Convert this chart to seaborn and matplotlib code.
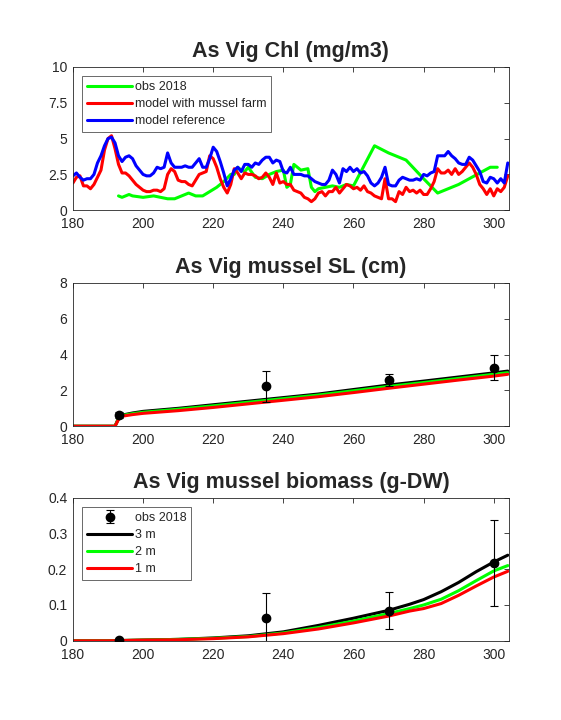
import numpy as np
import pandas as pd
import matplotlib
matplotlib.use('Agg')
import matplotlib.pyplot as plt
import seaborn as sns

# ---- Chl data (mg/m3) ----
chl_days = list(range(180, 305))
chl_reference = [2.4, 2.6, 2.3, 2.1, 2.2, 2.2, 2.5, 3.3, 3.8, 4.5,
                 5.0, 5.1, 4.7, 3.8, 3.4, 3.7, 3.8, 3.6, 3.1, 2.8,
                 2.5, 2.4, 2.4, 2.6, 3.0, 2.9, 3.0, 4.0, 3.3, 3.0,
                 3.0, 3.0, 3.1, 3.0, 3.0, 3.3, 3.6, 3.0, 3.0, 3.6,
                 4.4, 4.1, 3.4, 2.6, 1.7, 2.2, 2.8, 3.0, 2.7, 3.2,
                 3.2, 3.0, 3.3, 3.2, 3.5, 3.7, 3.7, 3.3, 3.5, 3.4,
                 2.7, 2.6, 3.0, 2.5, 2.5, 2.5, 2.4, 2.4, 2.2, 2.0,
                 1.9, 1.8, 1.8, 2.1, 2.8, 2.5, 1.9, 2.9, 2.7, 3.0,
                 2.7, 2.9, 2.6, 2.7, 2.4, 1.9, 1.7, 1.9, 2.3, 3.0,
                 1.8, 1.7, 1.7, 2.1, 2.3, 2.2, 2.1, 2.1, 2.2, 2.1,
                 2.5, 2.4, 2.6, 2.7, 3.8, 3.8, 3.8, 4.1, 3.8, 3.6,
                 3.3, 3.2, 3.2, 3.7, 3.5, 3.1, 2.7, 2.0, 1.9, 2.3,
                 2.2, 1.9, 2.2, 1.9, 3.3]
chl_farm = [1.9, 2.3, 2.4, 1.7, 1.7, 1.5, 1.8, 2.3, 2.8, 4.2,
            5.0, 5.2, 4.3, 3.2, 2.6, 2.6, 2.4, 2.1, 1.8, 1.6,
            1.4, 1.3, 1.3, 1.4, 1.4, 1.3, 1.5, 2.5, 2.9, 2.7,
            2.1, 2.0, 2.0, 1.8, 1.7, 2.1, 2.5, 2.6, 2.7, 3.8,
            3.6, 3.0, 2.2, 1.6, 1.2, 1.8, 2.9, 2.6, 2.2, 2.6,
            2.5, 2.5, 2.4, 2.2, 2.3, 2.6, 2.3, 1.8, 2.6, 1.9,
            2.0, 1.8, 1.8, 1.4, 1.3, 1.2, 0.9, 0.8, 0.6, 0.8,
            1.2, 1.3, 1.0, 1.3, 1.3, 1.6, 1.2, 1.5, 1.8, 1.7,
            1.5, 1.6, 1.4, 1.7, 1.3, 1.2, 1.0, 0.9, 0.8, 2.2,
            0.8, 0.8, 0.6, 1.3, 1.1, 1.6, 1.3, 1.4, 1.2, 1.4,
            1.1, 1.1, 1.5, 2.0, 2.9, 2.6, 2.6, 2.8, 2.5, 2.9,
            2.5, 2.7, 3.0, 3.3, 3.0, 2.5, 1.8, 1.5, 1.1, 1.5,
            1.0, 1.5, 1.3, 1.6, 2.4]
obs_chl_days = [193, 194, 196, 197, 200, 203, 205, 207, 209, 211, 213, 215, 217, 219,
                221, 223, 225, 226, 227, 228, 229, 230, 232, 234, 236, 238, 240, 241,
                242, 243, 245, 247, 248, 249, 250, 252, 254, 256, 258, 260, 266, 270,
                275, 280, 284, 290, 296, 299, 301]
obs_chl = [1.0, 0.9, 1.1, 1.0, 0.9, 1.0, 0.9, 0.8, 0.8, 1.0, 1.2, 1.0, 1.0, 1.3,
           1.6, 2.0, 2.5, 2.5, 3.0, 2.8, 2.7, 3.0, 2.3, 2.2, 2.5, 2.7, 2.8, 1.6,
           1.8, 3.2, 2.8, 2.9, 1.6, 1.3, 1.5, 1.6, 1.7, 1.6, 1.8, 1.7, 4.5, 4.0,
           3.5, 2.2, 1.2, 1.8, 2.6, 3.0, 3.0]

# ---- mussel shell length (cm) ----
sl_days = [180, 192, 193, 194, 197, 200, 210, 220, 230, 240, 250, 260, 270, 280, 290, 300, 304]
sl_3m = [0, 0, 0.45, 0.62, 0.74, 0.83, 1.0, 1.2, 1.4, 1.6, 1.8, 2.05, 2.3, 2.52, 2.75, 2.98, 3.08]
sl_2m = [0, 0, 0.42, 0.6, 0.7, 0.78, 0.95, 1.14, 1.34, 1.54, 1.74, 1.98, 2.22, 2.44, 2.67, 2.9, 2.99]
sl_1m = [0, 0, 0.38, 0.56, 0.65, 0.72, 0.87, 1.05, 1.25, 1.45, 1.65, 1.88, 2.12, 2.35, 2.58, 2.8, 2.9]
obs_sl_days = [193, 235, 270, 300]
obs_sl = [0.62, 2.22, 2.59, 3.26]
obs_sl_err = [0.15, 0.85, 0.33, 0.69]

# ---- mussel biomass (g-DW) ----
bm_days = [180, 190, 200, 210, 220, 230, 240, 250, 260, 270, 276, 280, 285, 290, 295, 300, 304]
bm_3m = [0, 0, 0.002, 0.004, 0.008, 0.014, 0.025, 0.043, 0.063, 0.085, 0.102, 0.115, 0.137, 0.163, 0.193, 0.22, 0.239]
bm_2m = [0, 0, 0.002, 0.004, 0.007, 0.012, 0.022, 0.037, 0.055, 0.076, 0.09, 0.1, 0.116, 0.14, 0.168, 0.195, 0.21]
bm_1m = [0, 0, 0.002, 0.003, 0.006, 0.011, 0.02, 0.033, 0.05, 0.069, 0.083, 0.09, 0.104, 0.127, 0.153, 0.178, 0.194]
obs_bm_days = [193, 235, 270, 300]
obs_bm = [0.001, 0.064, 0.084, 0.217]
obs_bm_err = [0.002, 0.07, 0.052, 0.119]

sns.set_theme(style='white')
plt.rcParams['font.family'] = ['Liberation Sans', 'DejaVu Sans']
plt.rcParams['xtick.direction'] = 'in'
plt.rcParams['ytick.direction'] = 'in'

GREEN = '#00ff00'
RED = '#ff0000'
BLUE = '#0000ff'
LW = 2.2
AXC = '#262626'
TICKFS = 10
LEGFS = 9
TITLEFS = 15.5

fig = plt.figure(figsize=(5.61, 7.2), dpi=100)
ax1 = fig.add_axes([0.130, 0.708, 0.777, 0.199])
ax2 = fig.add_axes([0.130, 0.408, 0.777, 0.199])
ax3 = fig.add_axes([0.130, 0.110, 0.777, 0.199])


def style_axis(ax, yticks, ylabels):
    ax.set_xlim(180, 304.3)
    ax.set_xticks([180, 200, 220, 240, 260, 280, 300])
    ax.set_yticks(yticks)
    ax.set_yticklabels(ylabels)
    ax.tick_params(axis='both', labelsize=TICKFS, colors=AXC, length=3.5, width=0.6,
                   top=True, right=True)
    ax.tick_params(axis='x', pad=5)
    ax.tick_params(axis='y', pad=4)
    for s in ax.spines.values():
        s.set_color(AXC)
        s.set_linewidth(0.6)
    ax.set_xlabel('')
    ax.set_ylabel('')


def style_legend(leg):
    leg.get_frame().set_edgecolor(AXC)
    leg.get_frame().set_linewidth(0.6)


legkw = dict(loc='upper left', fontsize=LEGFS, handlelength=3.6, handletextpad=0.2,
             labelspacing=0.4, borderpad=0.4, borderaxespad=0.75, frameon=True,
             fancybox=False)

# 1. Chl
sns.lineplot(x=obs_chl_days, y=obs_chl, ax=ax1, color=GREEN, lw=LW, label='obs 2018')
sns.lineplot(x=chl_days, y=chl_farm, ax=ax1, color=RED, lw=LW, label='model with mussel farm')
sns.lineplot(x=chl_days, y=chl_reference, ax=ax1, color=BLUE, lw=LW, label='model reference')
ax1.set_ylim(0, 10)
style_axis(ax1, [0, 2.5, 5, 7.5, 10], ['0', '2.5', '5', '7.5', '10'])
ax1.set_title('As Vig Chl (mg/m3)', fontsize=TITLEFS, fontweight='bold', pad=7)
style_legend(ax1.legend(**legkw))

# 2. Shell length
sns.lineplot(x=sl_days, y=sl_3m, ax=ax2, color='black', lw=LW)
sns.lineplot(x=sl_days, y=sl_2m, ax=ax2, color=GREEN, lw=LW)
sns.lineplot(x=sl_days, y=sl_1m, ax=ax2, color=RED, lw=LW)
ax2.errorbar(obs_sl_days, obs_sl, yerr=obs_sl_err, fmt='o', color='black',
             markersize=6, capsize=3, elinewidth=0.8, capthick=0.8, zorder=5)
ax2.set_ylim(0, 8)
style_axis(ax2, [0, 2, 4, 6, 8], ['0', '2', '4', '6', '8'])
ax2.set_title('As Vig mussel SL (cm)', fontsize=TITLEFS, fontweight='bold', pad=7)

# 3. Biomass
ax3.errorbar(obs_bm_days, obs_bm, yerr=obs_bm_err, fmt='o', color='black',
             markersize=6, capsize=3, elinewidth=0.8, capthick=0.8, zorder=5,
             label='obs 2018')
sns.lineplot(x=bm_days, y=bm_3m, ax=ax3, color='black', lw=LW, label='3 m')
sns.lineplot(x=bm_days, y=bm_2m, ax=ax3, color=GREEN, lw=LW, label='2 m')
sns.lineplot(x=bm_days, y=bm_1m, ax=ax3, color=RED, lw=LW, label='1 m')
ax3.set_ylim(0, 0.4)
style_axis(ax3, [0, 0.1, 0.2, 0.3, 0.4], ['0', '0.1', '0.2', '0.3', '0.4'])
ax3.set_title('As Vig mussel biomass (g-DW)', fontsize=TITLEFS, fontweight='bold', pad=7)
handles, labels = ax3.get_legend_handles_labels()
order = [labels.index(l) for l in ['obs 2018', '3 m', '2 m', '1 m']]
style_legend(ax3.legend([handles[i] for i in order], [labels[i] for i in order], **legkw))

fig.savefig('out.png', dpi=100, facecolor='white')
